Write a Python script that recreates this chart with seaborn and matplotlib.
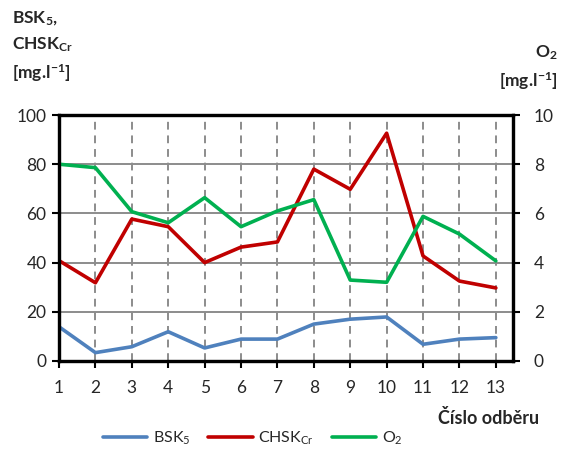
import numpy as np
import pandas as pd
import seaborn as sns
import matplotlib.pyplot as plt
from matplotlib.lines import Line2D

odber = list(range(1, 14))
bsk5 = [13.9, 3.4, 5.8, 11.9, 5.3, 8.9, 8.9, 15.0, 17.0, 17.9, 6.8, 8.9, 9.5]
chsk_cr = [40.8, 31.8, 57.7, 54.6, 40.0, 46.3, 48.4, 78.0, 69.8, 92.6, 42.7, 32.5, 29.7]
o2 = [8.0, 7.86, 6.07, 5.62, 6.64, 5.46, 6.1, 6.56, 3.29, 3.2, 5.88, 5.16, 4.07]

df = pd.DataFrame({"odber": odber, "BSK5": bsk5, "CHSKCr": chsk_cr, "O2": o2})

sns.set_style("white")
plt.rcParams['font.family'] = ['Lato', 'DejaVu Sans']
plt.rcParams['mathtext.fontset'] = 'custom'
plt.rcParams['mathtext.rm'] = 'Lato'
plt.rcParams['mathtext.bf'] = 'Lato:bold'
plt.rcParams['mathtext.default'] = 'regular'

c_blue, c_red, c_green = '#4F81BD', '#C00000', '#00B050'
lw = 2.6

fig = plt.figure(figsize=(5.68, 4.53), dpi=100)
ax = fig.add_axes([0.1039, 0.2031, 0.7992, 0.5430])
ax2 = ax.twinx()

sns.lineplot(data=df, x="odber", y="BSK5", ax=ax, color=c_blue, lw=lw)
sns.lineplot(data=df, x="odber", y="CHSKCr", ax=ax, color=c_red, lw=lw)
sns.lineplot(data=df, x="odber", y="O2", ax=ax2, color=c_green, lw=lw)

ax.set_xlim(1, 13.47)
ax.set_ylim(0, 100)
ax2.set_ylim(0, 10)
ax.set_xticks(odber)
ax.set_yticks(range(0, 101, 20))
ax2.set_yticks(range(0, 11, 2))
ax.set_xlabel("")
ax.set_ylabel("")
ax2.set_ylabel("")

# grid
for y in range(20, 100, 20):
    ax.axhline(y, color='#8c8c8c', lw=1.4, zorder=0)
for x in odber[1:]:
    ax.axvline(x, color='#8c8c8c', lw=1.4, ls=(0, (4, 3)), zorder=0)

for a in (ax, ax2):
    for s in a.spines.values():
        s.set_color('black')
        s.set_linewidth(2.3)
ax.tick_params(axis='both', direction='out', length=5, width=1.5, color='black',
               labelsize=12.5, pad=4)
ax.tick_params(axis='x', pad=9, bottom=True)
ax.tick_params(axis='y', left=True)
ax2.tick_params(axis='y', direction='out', length=5, width=1.5, color='black',
                labelsize=12.5, pad=10, right=True)

unit = r"$\mathbf{[mg.\!l^{-1}]}$"
fig.text(0.021, 0.978, r"$\mathbf{BSK_5,}$" + "\n" + r"$\mathbf{CHSK_{Cr}}$" + "\n" + unit,
         ha='left', va='top', fontsize=12.5, linespacing=1.5)
fig.text(0.982, 0.905, r"$\mathbf{O_2}$" + "\n" + unit,
         ha='right', va='top', fontsize=12.5, linespacing=1.5, multialignment='right')
fig.text(0.949, 0.077, "Číslo odběru", ha='right', va='center', fontsize=13,
         fontweight='bold')

handles = [Line2D([], [], color=c_blue, lw=lw),
           Line2D([], [], color=c_red, lw=lw),
           Line2D([], [], color=c_green, lw=lw)]
labels = [r"BSK$_5$", r"CHSK$_{Cr}$", r"O$_2$"]
fig.legend(handles, labels, loc='center', bbox_to_anchor=(0.445, 0.033), ncol=3,
           frameon=False, fontsize=11.5, handlelength=2.8, handletextpad=0.35,
           columnspacing=1.1)

fig.savefig("out.png", dpi=100)
